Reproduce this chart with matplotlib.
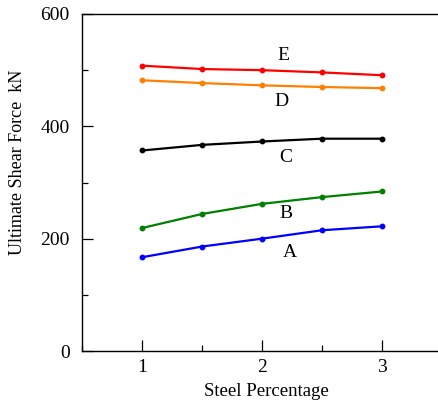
import matplotlib
matplotlib.use("Agg")
import matplotlib.pyplot as plt
from matplotlib.ticker import MultipleLocator

plt.rcParams['font.family'] = ['Liberation Serif', 'DejaVu Serif']

steel = [1, 1.5, 2, 2.5, 3]
series_names = ["A", "B", "C", "D", "E"]
A = [167, 186, 200, 215, 222]
B = [219, 244, 262, 274, 284]
C = [357, 367, 373, 378, 378]
D = [482, 477, 473, 470, 468]
E = [508, 502, 500, 496, 491]
colors = ["#0000ff", "#008000", "#000000", "#ff8000", "#ff0000"]
label_pos = [(2.23, 176), (2.2, 245), (2.2, 344), (2.16, 445), (2.18, 527)]

fig = plt.figure(figsize=(4.39, 4.04), dpi=100)
ax = fig.add_axes([82.3 / 439, 53 / 404, 359.5 / 439, 337 / 404])

for name, vals, c, (lx, ly) in zip(series_names, [A, B, C, D, E], colors, label_pos):
    ax.plot(steel, vals, color=c, lw=1.6, marker='o', ms=3.2)
    ax.text(lx, ly, name, ha='center', va='center', fontsize=14)

ax.set_xlim(0.5, 3.5)
ax.set_ylim(0, 600)
ax.xaxis.set_major_locator(MultipleLocator(1))
ax.xaxis.set_minor_locator(MultipleLocator(0.5))
ax.yaxis.set_major_locator(MultipleLocator(200))
ax.yaxis.set_minor_locator(MultipleLocator(100))
ax.set_xticks([1, 2, 3])
ax.tick_params(which='major', direction='in', length=8, width=0.9, labelsize=14, pad=6)
ax.tick_params(which='minor', direction='in', length=4, width=0.9)
ax.tick_params(axis='y', which='major', pad=9)
ax.spines['right'].set_visible(False)
for s in ['left', 'top', 'bottom']:
    ax.spines[s].set_linewidth(1.0)

ax.set_xlabel("Steel Percentage", fontsize=13.5)
ax.set_ylabel("Ultimate Shear Force  kN", fontsize=13)
ax.xaxis.set_label_coords((266 - 82.3) / 359.5, -(392 - 351) / 337)
ax.yaxis.set_label_coords(-(82.3 - 18) / 359.5, (351 - 162) / 337)
ax.xaxis.label.set_va('center')
ax.yaxis.label.set_va('center')

fig.savefig("out.png", dpi=100)
